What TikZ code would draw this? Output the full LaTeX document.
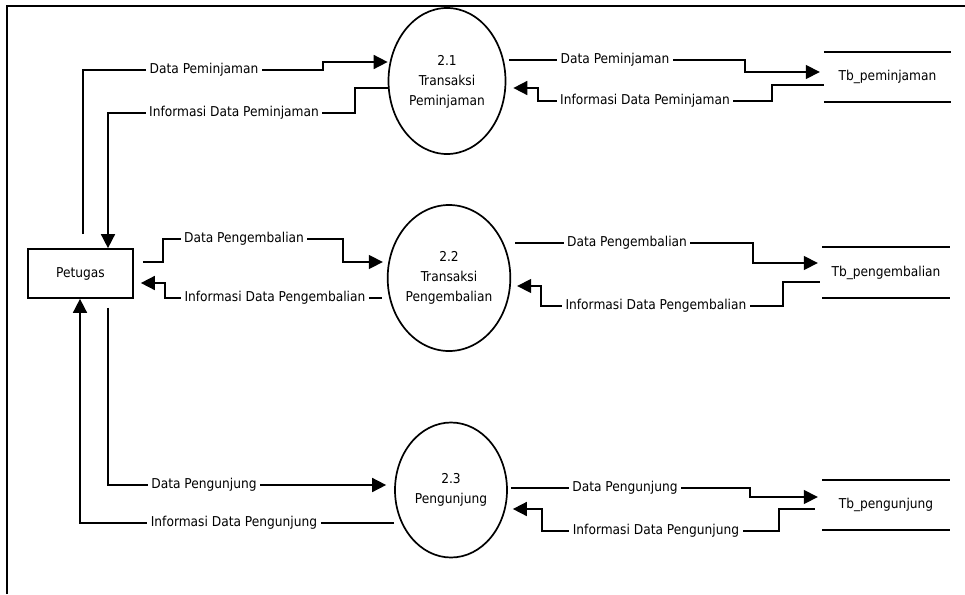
\documentclass[tikz,border=0pt]{standalone}
\usepackage{fontspec}
\setmainfont{DejaVu Sans Condensed}
\usetikzlibrary{arrows.meta,shapes.geometric}

\begin{document}
\begin{tikzpicture}[x=1pt,y=-1pt,
  every node/.style={font=\fontsize{13.6}{20}\selectfont},
  flow/.style={line width=1.6pt},
  arr/.style={flow,-{Triangle[length=14pt,width=14pt]}},
  proc/.style={ellipse,draw,line width=1.7pt,align=center,inner sep=0pt},
  lbl/.style={fill=white,inner xsep=3.5pt,inner ysep=1pt},
  entity/.style={draw,line width=1.7pt,minimum width=105pt,minimum height=49pt},
  store/.style={minimum width=127pt,inner sep=0pt}
]
\useasboundingbox (0,0) rectangle (965,594);

% outer frame (top and left edges)
\draw[line width=2.4pt] (7,594) -- (7,6) -- (965,6);

% external entity
\node[entity] (pt) at (80.5,273.5) {Petugas};

% processes
\node[proc,minimum width=117pt,minimum height=146pt] (e1) at (447,81) {\\[-8pt]2.1\\Transaksi\\Peminjaman};
\node[proc,minimum width=118pt,minimum height=146pt] (e2) at (449,278) {2.2\\Transaksi\\Pengembalian};
\node[proc,minimum width=112pt,minimum height=135pt] (e3) at (451,490) {2.3\\Pengunjung};

% data stores
\node[store,minimum height=50pt] (s1) at (887.5,77) {\raisebox{-3pt}{Tb\_peminjaman}};
\node[store,minimum height=51pt] (s2) at (886,272.5) {\raisebox{-3pt}{Tb\_pengembalian}};
\node[store,minimum height=50pt] (s3) at (886,505) {\raisebox{-2pt}{Tb\_pengunjung}};
\foreach \s in {s1,s2,s3}{
  \draw[flow] (\s.north west) -- (\s.north east);
  \draw[flow] (\s.south west) -- (\s.south east);
}

% Petugas <-> 2.1
\draw[arr] ([xshift=2.5pt,yshift=14pt]pt.north) -- (83,70) -- (323,70) -- (323,62) -- ([yshift=19pt]e1.west);
\draw[arr] ([yshift=-7pt]e1.west) -- (355,88) -- (355,113) -- (108,113) -- ([xshift=27.5pt]pt.north);

% Petugas <-> 2.2
\draw[arr] ([xshift=9pt,yshift=11.5pt]pt.east) -- (163,262) -- (163,239) -- (343,239) -- (343,262) -- ([yshift=16pt,xshift=-4pt]e2.west);
\draw[arr] ([yshift=-20pt,xshift=-5pt]e2.west) -- (165,298) -- (165,283) -- ([xshift=7pt,yshift=-9.5pt]pt.east);

% Petugas <-> 2.3
\draw[arr] ([yshift=-33pt]e3.west) -- (80,523) -- ([xshift=-0.5pt]pt.south);
\draw[arr] ([xshift=27.5pt,yshift=-9pt]pt.south) -- (108,485) -- ([yshift=5pt,xshift=-8pt]e3.west);

% 2.1 <-> Tb_peminjaman
\draw[arr] ([yshift=21pt,xshift=3pt]e1.east) -- (745,60) -- (745,72) -- ([yshift=5pt,xshift=-4pt]s1.west);
\draw[arr] ([yshift=-8pt]s1.west) -- (772,85) -- (772,101) -- (538,101) -- (538,88) -- ([yshift=-7pt,xshift=7pt]e1.east);

% 2.2 <-> Tb_pengembalian
\draw[arr] ([yshift=35pt,xshift=4pt]e2.east) -- (753,243) -- (753,263) -- ([yshift=9.5pt,xshift=-4.5pt]s2.west);
\draw[arr] ([yshift=-9.5pt,xshift=-2.5pt]s2.west) -- (783,282) -- (783,306) -- (541,306) -- (541,286) -- ([yshift=-8pt,xshift=6pt]e2.east);

% 2.3 <-> Tb_pengunjung
\draw[arr] ([yshift=2pt,xshift=3pt]e3.east) -- (750,488) -- (750,497) -- ([yshift=8pt,xshift=-4.5pt]s3.west);
\draw[arr] ([yshift=-4pt,xshift=-7.5pt]s3.west) -- (779,509) -- (779,531) -- (542,531) -- (542,509) -- ([yshift=-19pt,xshift=5pt]e3.east);

% flow labels
\node[lbl] (l1) at (204,70) {Data Peminjaman};
\node[lbl] (l2) at (234,113) {Informasi Data Peminjaman};
\node[lbl] (l3) at (244,239) {Data Pengembalian};
\node[lbl] (l4) at (275,298) {Informasi Data Pengembalian};
\node[lbl] (l5) at (204,485) {Data Pengunjung};
\node[lbl] (l6) at (234,523) {Informasi Data Pengunjung};
\node[lbl] (l7) at (615,60) {Data Peminjaman};
\node[lbl] (l8) at (645,101) {Informasi Data Peminjaman};
\node[lbl] (l9) at (627,243) {Data Pengembalian};
\node[lbl] (l10) at (656,306) {Informasi Data Pengembalian};
\node[lbl] (l11) at (625,488) {Data Pengunjung};
\node[lbl] (l12) at (656,531) {Informasi Data Pengunjung};
\end{tikzpicture}
\end{document}
